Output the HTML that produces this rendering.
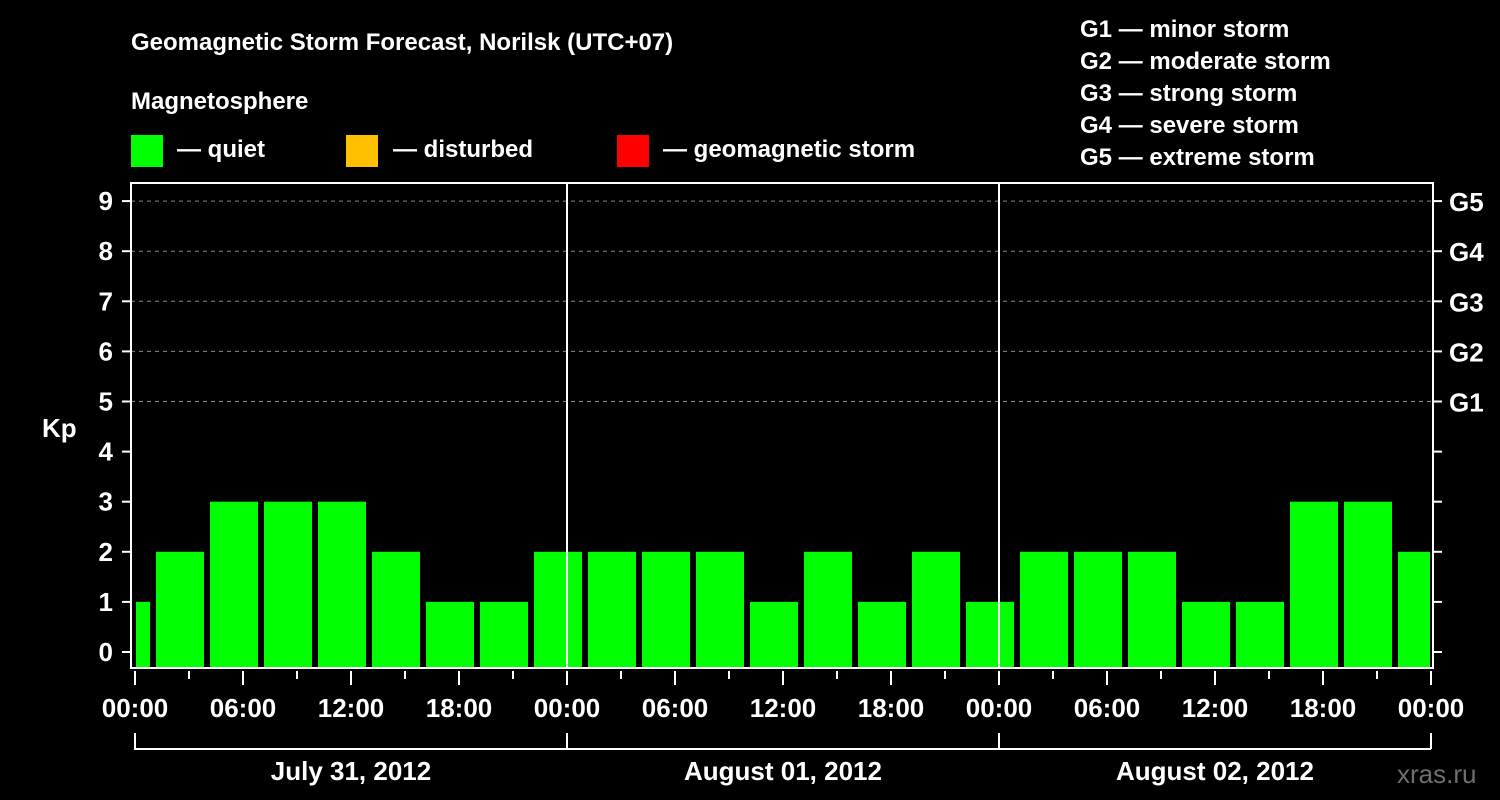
<!DOCTYPE html>
<html><head><meta charset="utf-8"><style>
html,body{margin:0;padding:0;background:#000;}
svg{display:block;font-family:"Liberation Sans",Arial,sans-serif;font-weight:bold;}
</style></head><body>
<svg id="chart" width="1500" height="800" viewBox="0 0 1500 800" xmlns="http://www.w3.org/2000/svg">
<rect width="1500" height="800" fill="#000"/>
<text x="131" y="50" fill="#fff" font-size="24">Geomagnetic Storm Forecast, Norilsk (UTC+07)</text>
<text x="131" y="109" fill="#fff" font-size="24">Magnetosphere</text>
<g>
<rect x="131" y="135" width="32" height="32" fill="#00ff00"/>
<text x="177" y="157" fill="#fff" font-size="24">— quiet</text>
<rect x="346" y="135" width="32" height="32" fill="#ffc000"/>
<text x="393" y="157" fill="#fff" font-size="24">— disturbed</text>
<rect x="617" y="135" width="32" height="32" fill="#ff0000"/>
<text x="663" y="157" fill="#fff" font-size="24">— geomagnetic storm</text>
</g>
<g fill="#fff" font-size="24">
<text x="1080" y="37">G1 — minor storm</text>
<text x="1080" y="69">G2 — moderate storm</text>
<text x="1080" y="101">G3 — strong storm</text>
<text x="1080" y="133">G4 — severe storm</text>
<text x="1080" y="165">G5 — extreme storm</text>
</g>
<text x="42" y="437" fill="#fff" font-size="26">Kp</text>
<text x="1397" y="783" fill="#6e6e6e" font-size="26" font-weight="normal">xras.ru</text>
<g id="plot"></g>
</svg>
<script>
const kpValues = [1, 2,3,3,3,2,1,1,2, 2,2,2,1,2,1,2,1, 2,2,2,1,1,3,3,2];
const startHours = [-2, 1,4,7,10,13,16,19,22, 25,28,31,34,37,40,43,46, 49,52,55,58,61,64,67,70];
const yTicks = [0,1,2,3,4,5,6,7,8,9];
const gLabels = ["G1","G2","G3","G4","G5"];
const gLevels = [5,6,7,8,9];
const xTickLabels = ["00:00","06:00","12:00","18:00","00:00","06:00","12:00","18:00","00:00","06:00","12:00","18:00","00:00"];
const dayLabels = ["July 31, 2012","August 01, 2012","August 02, 2012"];

const NS="http://www.w3.org/2000/svg";
const g=document.getElementById('plot');
const L=131,R=1433,T=183,B=668;
const x0=135, pxPerHour=18;
const xs=h=>x0+h*pxPerHour;
const ys=v=>652-v*50.1;
function mk(tag,attrs){const e=document.createElementNS(NS,tag);for(const k in attrs)e.setAttribute(k,attrs[k]);g.appendChild(e);return e;}

// grid lines
gLevels.forEach(v=>{
  const e=mk('line',{x1:L,x2:R,y1:ys(v),y2:ys(v),stroke:'#888','stroke-dasharray':'4,4','stroke-width':1});
  
  
});
// bars
kpValues.forEach((v,i)=>{
  let a=xs(startHours[i])+3, b=xs(startHours[i]+3)-3;
  a=Math.max(a,L+5); b=Math.min(b,R-3);
  const e=mk('rect',{x:a,y:ys(v),width:b-a,height:B-ys(v),fill:'#00ff00'});
  
  
});
// day separators
[24,48].forEach(h=>{
  const e=mk('line',{x1:xs(h),x2:xs(h),y1:T,y2:B,stroke:'#fff','stroke-width':2});
  
  
});
// frame
const fr=mk('rect',{x:L,y:T,width:R-L,height:B-T,fill:'none',stroke:'#fff','stroke-width':2});


// y ticks
yTicks.forEach(v=>{
  const t=mk('line',{x1:122,x2:L,y1:ys(v),y2:ys(v),stroke:'#fff','stroke-width':2});
  
  
  const t2=mk('line',{x1:R,x2:R+9,y1:ys(v),y2:ys(v),stroke:'#fff','stroke-width':2});
  
  
  const l=mk('text',{x:113,y:ys(v)+9,fill:'#fff','font-size':26,'text-anchor':'end'});
  l.textContent=v;
  
  
});
gLabels.forEach((s,i)=>{
  const l=mk('text',{x:1449,y:ys(gLevels[i])+10,fill:'#fff','font-size':26});
  l.textContent=s;
  
  
});
// x ticks
for(let h=0;h<=72;h+=3){
  const major=h%6===0;
  const t=mk('line',{x1:xs(h),x2:xs(h),y1:B+3,y2:B+(major?17:11),stroke:'#fff','stroke-width':2});
  
  
}
xTickLabels.forEach((s,i)=>{
  const l=mk('text',{x:xs(i*6),y:717,fill:'#fff','font-size':26,'text-anchor':'middle'});
  l.textContent=s;
  
  
});
dayLabels.forEach((s,i)=>{
  const a=xs(i*24),b=xs(i*24+24);
  const p=mk('path',{d:`M${a},733V749H${b}M${b},733V749`,stroke:'#fff','stroke-width':2,fill:'none'});
  
  
  const l=mk('text',{x:(a+b)/2,y:780,fill:'#fff','font-size':26,'text-anchor':'middle'});
  l.textContent=s;
  
  
});
</script>
</body></html>
